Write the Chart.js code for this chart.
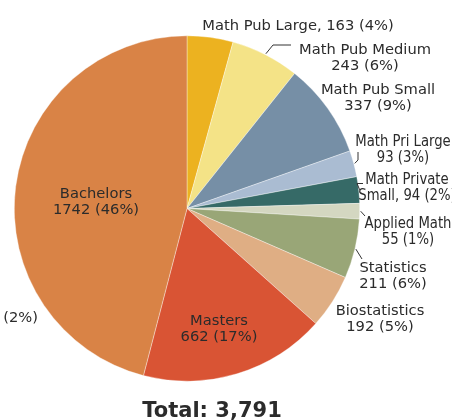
<!DOCTYPE html>
<html><head><meta charset="utf-8">
<script src="https://cdn.jsdelivr.net/npm/chart.js@4.4.1/dist/chart.umd.min.js"></script>
<style>html,body{margin:0;padding:0;background:#fff;overflow:hidden}canvas{display:block}</style>
</head><body>
<canvas id="c" width="452" height="420"></canvas>
<script>
const categories = ["Math Pub Large","Math Pub Medium","Math Pub Small","Math Pri Large","Math Private Small","Applied Math","Statistics","Biostatistics","Masters","Bachelors"];
const values = [163,243,337,93,94,55,211,192,662,1742];
const percents = ["4%","6%","9%","3%","2%","1%","6%","5%","17%","46%"];
const labelLines = [
  ["Math Pub Large, 163 (4%)"],
  ["Math Pub Medium","243 (6%)"],
  ["Math Pub Small","337 (9%)"],
  ["Math Pri Large","93 (3%)"],
  ["Math Private","Small, 94 (2%)"],
  ["Applied Math","55 (1%)"],
  ["Statistics","211 (6%)"],
  ["Biostatistics","192 (5%)"],
  ["Masters","662 (17%)"],
  ["Bachelors","1742 (46%)"]
];
const totalLabel = "Total: 3,791";
const cutLabel = "Other, 74 (2%)";
const colors = ["#ECB220","#F4E387","#768FA6","#AABCD2","#366A67","#D4D7C1","#99A677","#DFAE84","#D95434","#D98346"];

// label text centres (x, y of first line) and optional leader elbow points
const labelPos = [[298,26],[365,50],[378,90],[403,142],[407,180],[408,224],[393,268],[380,311],[219,321],[96,194]];
const condensed = [false,false,false,true,true,true,false,false,false,false];
const leaders = {1:[[273,45],[291,45]],3:[[358,160],[358,152]],4:[[357,183.5],[363,183.5]],5:[[365,216]],6:[[362,259]]};
const FONT = '"DejaVu Sans", sans-serif';
const FONT_C = '"DejaVu Sans Condensed", "DejaVu Sans", sans-serif';

const labelPlugin = {
  id:'labels',
  afterDatasetsDraw(chart){
    const ctx = chart.ctx;
    const meta = chart.getDatasetMeta(0);
    ctx.save();
    ctx.strokeStyle = '#333'; ctx.lineWidth = 1;
    meta.data.forEach((arc,i)=>{
      if(!leaders[i]) return;
      const mid = (arc.startAngle+arc.endAngle)/2;
      const r = arc.outerRadius+1;
      ctx.beginPath();
      ctx.moveTo(arc.x+Math.cos(mid)*r, arc.y+Math.sin(mid)*r);
      leaders[i].forEach(p=>ctx.lineTo(p[0],p[1]));
      ctx.stroke();
    });
    ctx.fillStyle = '#2b2b2b';
    ctx.textAlign = 'center'; ctx.textBaseline = 'middle';
    labelLines.forEach((lines,i)=>{
      const [x,y] = labelPos[i];
      lines.forEach((t,j)=>{
        if(condensed[i]){
          ctx.save();
          ctx.font = '15px '+FONT_C;
          ctx.translate(x, y+j*16);
          ctx.scale(0.98,1);
          ctx.fillText(t,0,0);
          ctx.restore();
        } else {
          ctx.font = '14.7px '+FONT;
          ctx.fillText(t,x,y+j*16);
        }
      });
    });
    ctx.font = '14.7px '+FONT;
    ctx.textAlign = 'right';
    ctx.fillText(cutLabel, 38, 318);
    ctx.font = 'bold 21px '+FONT;
    ctx.textAlign = 'center'; ctx.textBaseline = 'alphabetic';
    ctx.fillText(totalLabel, 212, 417);
    ctx.restore();
  }
};

new Chart(document.getElementById('c'),{
  type:'pie',
  data:{labels:categories,datasets:[{data:values,backgroundColor:colors,borderColor:'rgba(255,255,255,0.6)',borderWidth:0.6}]},
  options:{
    responsive:false,animation:false,
    layout:{padding:{left:14,right:92,top:35,bottom:38}},
    plugins:{legend:{display:false},tooltip:{enabled:false}}
  },
  plugins:[labelPlugin]
});
</script>
</body></html>
